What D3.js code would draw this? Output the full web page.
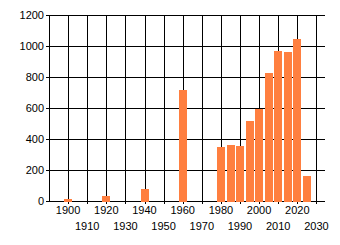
<!DOCTYPE html>
<html>
<head>
<meta charset="utf-8">
<script src="https://cdn.jsdelivr.net/npm/d3@7"></script>
<style>
  body { margin: 0; background: #fff; }
  text { font-family: "Liberation Sans", Arial, sans-serif; font-size: 11px; fill: #000; }
</style>
</head>
<body>
<div id="chart"></div>
<script>
// counts per 5-year bin
years = [1900, 1920, 1940, 1960, 1980, 1985, 1990, 1995, 2000, 2005, 2010, 2015, 2020, 2025];
counts = [12, 32, 75, 718, 350, 362, 356, 516, 595, 826, 968, 961, 1045, 160];
yTicks = [0, 200, 400, 600, 800, 1000, 1200];
xTicks = [1900, 1910, 1920, 1930, 1940, 1950, 1960, 1970, 1980, 1990, 2000, 2010, 2020, 2030];

const width = 340,
  height = 245;
const margin = {top: 15, right: 15, bottom: 44, left: 49};

const svg = d3.select("#chart").append("svg")
  .attr("width", width)
  .attr("height", height)
  .style("display", "block");

const x = d3.scaleLinear()
  .domain([1890, 2034.5])
  .range([margin.left, width - margin.right]);

const y = d3.scaleLinear()
  .domain([0, 1200])
  .range([height - margin.bottom, margin.top]);

// grid
svg.append("g")
  .selectAll("line")
  .data(yTicks)
  .join("line")
  .attr("x1", margin.left - 3)
  .attr("x2", width - margin.right)
  .attr("y1", d => Math.round(y(d)) + 0.5)
  .attr("y2", d => Math.round(y(d)) + 0.5)
  .attr("stroke", "#000");

svg.append("g")
  .selectAll("line")
  .data(xTicks)
  .join("line")
  .attr("x1", d => Math.round(x(d)) + 0.5)
  .attr("x2", d => Math.round(x(d)) + 0.5)
  .attr("y1", margin.top)
  .attr("y2", height - margin.bottom + 3)
  .attr("stroke", "#000");

// bars
const bw = x(1894) - x(1890);
svg.append("g")
  .attr("shape-rendering", "crispEdges")
  .selectAll("rect")
  .data(years)
  .join("rect")
  .attr("x", d => Math.round(x(d) - bw / 2))
  .attr("width", Math.round(bw))
  .attr("y", (d, i) => Math.round(y(counts[i])))
  .attr("height", (d, i) => Math.round(y(0)) - Math.round(y(counts[i])) + 1)
  .attr("fill", "#ff7f3f");

// axes lines
svg.append("line")
  .attr("x1", margin.left + 0.5).attr("x2", margin.left + 0.5)
  .attr("y1", margin.top).attr("y2", height - margin.bottom + 1)
  .attr("stroke", "#000");

// y labels
svg.append("g")
  .selectAll("text")
  .data(yTicks)
  .join("text")
  .attr("x", margin.left - 5)
  .attr("y", d => y(d))
  .attr("dy", "0.35em")
  .attr("text-anchor", "end")
  .text(d => d);

// x labels, staggered
svg.append("g")
  .selectAll("text")
  .data(xTicks)
  .join("text")
  .attr("x", d => x(d))
  .attr("y", (d, i) => i % 2 ? 226 : 210)
  .attr("dy", "0.35em")
  .attr("text-anchor", "middle")
  .text(d => d);
</script>
</body>
</html>
